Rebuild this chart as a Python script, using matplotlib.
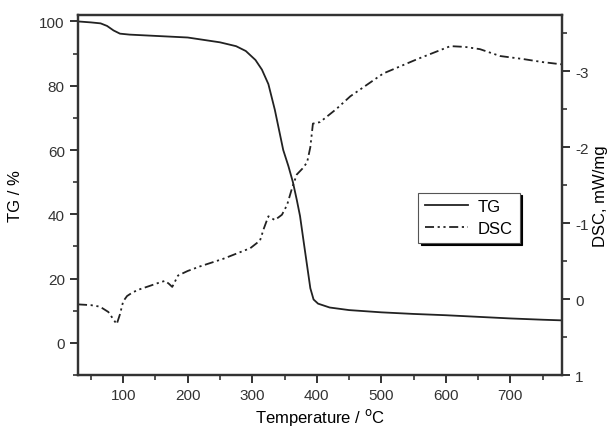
"""
TG / DSC thermogram: mass loss (left) and heat flow (right, inverted).
"""

import numpy as np
import matplotlib
matplotlib.use('Agg')
from matplotlib import pyplot as plt
from matplotlib.ticker import MultipleLocator

# DATA -----------------------
tg_temp = [30, 50, 65, 75, 85, 95, 110, 150, 200, 220, 250, 275, 290, 305, 315,
           325, 335, 348, 356, 363, 369, 374, 380, 385, 390, 395, 402, 420,
           450, 500, 550, 600, 650, 700, 750, 780]
tg_val  = [100, 99.7, 99.4, 98.6, 97.2, 96.2, 95.9, 95.5, 95.0, 94.4, 93.5, 92.3,
           90.8, 88.0, 85.0, 80.5, 72.5, 60.0, 55.0, 50.0, 44.5, 39.5, 31.0, 24.0,
           17.0, 13.5, 12.2, 11.0, 10.2, 9.5, 9.0, 8.6, 8.1, 7.6, 7.2, 7.0]

dsc_temp = [30, 50, 64, 77, 85, 90, 95, 100, 106, 115, 126, 140, 157, 165, 171,
            176, 185, 200, 219, 255, 297, 312, 318, 325, 335, 346, 354, 362,
            369, 378, 385, 390, 394, 405, 430, 452, 503, 556, 607, 630, 653,
            684, 720, 750, 780]
dsc_val  = [0.07, 0.08, 0.10, 0.17, 0.27, 0.33, 0.20, 0.03, -0.04, -0.09, -0.13,
            -0.17, -0.22, -0.24, -0.20, -0.16, -0.31, -0.37, -0.43, -0.53, -0.67,
            -0.77, -0.93, -1.09, -1.04, -1.11, -1.24, -1.47, -1.64, -1.72, -1.80,
            -2.00, -2.31, -2.33, -2.50, -2.67, -2.97, -3.16, -3.33, -3.32, -3.29,
            -3.20, -3.16, -3.12, -3.09]
# -----------------------------

plt.rcParams['font.family'] = ['Liberation Sans', 'DejaVu Sans']
plt.rcParams['axes.unicode_minus'] = False
fontsize = 11
lw_axis  = 1.6

fig = plt.figure(figsize=(6.11, 4.35), dpi=100)
ax  = fig.add_axes([0.1277, 0.1356, 0.7921, 0.8276])
ax2 = ax.twinx()

l1, = ax.plot(tg_temp, tg_val, color='#222222', lw=1.3, label='TG')
l2, = ax2.plot(dsc_temp, dsc_val, color='#222222', lw=1.3,
               dashes=[5, 2, 1.2, 2, 1.2, 2], label='DSC')

ax.set_xlim([30, 780])
ax.set_ylim([-10, 102])
ax2.set_ylim([1, -3.74])

ax.xaxis.set_major_locator(MultipleLocator(100))
ax.xaxis.set_minor_locator(MultipleLocator(50))
ax.yaxis.set_major_locator(MultipleLocator(20))
ax.yaxis.set_minor_locator(MultipleLocator(10))
ax2.yaxis.set_major_locator(MultipleLocator(1))
ax2.yaxis.set_minor_locator(MultipleLocator(0.5))

for a in (ax, ax2):
    for s in a.spines.values():
        s.set_linewidth(lw_axis)
        s.set_color('#333333')
    a.tick_params(which='major', direction='out', length=6, width=1.4,
                  labelsize=fontsize, colors='#333333')
    a.tick_params(which='minor', direction='out', length=3.5, width=1.2,
                  colors='#333333')
ax.tick_params(top=False, right=False, which='both')

ax.set_xlabel(r'Temperature / $^{\rm o}$C', fontsize=12, labelpad=3)
ax.set_ylabel('TG / %', fontsize=12, labelpad=12)
ax2.set_ylabel('DSC, mW/mg', fontsize=12, labelpad=3)

leg = ax.legend(handles=[l1, l2], loc='upper left', bbox_to_anchor=(0.685, 0.53),
                fontsize=12, frameon=True, fancybox=False, handlelength=2.6,
                borderpad=0.4, labelspacing=0.4, handletextpad=0.6,
                shadow={'color': 'black', 'alpha': 1})
leg.get_frame().set_edgecolor('#555555')
leg.get_frame().set_linewidth(0.8)

plt.savefig('out.png', dpi=100)
